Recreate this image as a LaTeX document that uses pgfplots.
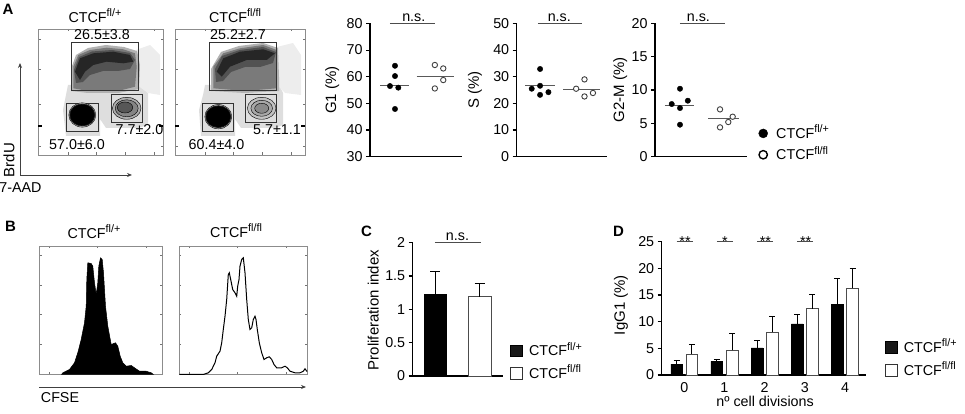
\documentclass[border=0pt]{standalone}
\usepackage{fontspec}
\setmainfont{Liberation Sans}
\usepackage{pgfplots}
\pgfplotsset{compat=1.18}
\usetikzlibrary{arrows.meta}
\newcommand\fs{\fontsize{14.3}{16}\selectfont}
\newcommand\fl{\fontsize{15}{17}\selectfont}
\newcommand\su[1]{\raisebox{5.6pt}{\fontsize{10.8}{10.8}\selectfont #1}}
\pgfplotsset{
  every axis/.append style={font=\fs},
  flow/.style={scale only axis, anchor=south west, width=125pt, height=126pt,
    xmin=0, xmax=125, ymin=0, ymax=126,
    axis line style={black!45, line width=0.6pt},
    tick align=inside, major tick length=2.5pt,
    xtick={30,58,87,116}, ytick={9,51,86,116}, xticklabels={}, yticklabels={},
    tick style={black!55, line width=0.5pt},
    extra y ticks={29}, extra y tick labels={},
    extra y tick style={major tick length=4pt, tick style={line width=1.8pt, black}},
    clip=false},
  hist/.style={scale only axis, anchor=south west, height=128.5pt,
    ymin=0, ymax=128.5,
    axis line style={black!45, line width=0.6pt},
    tick align=inside, major tick length=2pt,
    xtick={10,58,107}, ytick={30,60,89,119}, xticklabels={}, yticklabels={},
    tick style={black!55, line width=0.5pt}, clip=false},
  scat/.style={scale only axis, anchor=south west, height=133.3pt,
    axis x line*=bottom, axis y line*=left,
    axis line style={-, line width=1.1pt}, xtick=\empty,
    tick align=outside, major tick length=4pt,
    tick style={line width=1.1pt, black},
    yticklabel style={font=\fs},
    /pgf/number format/assume math mode=true,
    ylabel style={anchor=center, font=\fl},
    clip=false},
  fillpt/.style={only marks, mark=*, mark size=2.7pt, black},
  openpt/.style={only marks, mark=*, mark size=2.7pt, mark options={fill=white, draw=black!75, line width=0.9pt}},
  meanl/.style={black!65, line width=0.9pt},
  nsl/.style={black!70, line width=0.9pt},
  errs/.style={error bars/.cd, y dir=plus, y explicit,
    error bar style={black, line width=0.8pt},
    error mark options={rotate=90, mark size=#1, line width=0.8pt, black}},
}
\begin{document}
\begin{tikzpicture}[x=1pt, y=1pt, font=\fs]
\path[use as bounding box] (0,0) rectangle (965,414);

% ---------- panel letters ----------
\node[anchor=base, font=\fontsize{15}{17}\selectfont\bfseries] at (8,399.6) {A};
\node[anchor=base, font=\fontsize{15}{17}\selectfont\bfseries] at (10.5,182.1) {B};
\node[anchor=base, font=\fontsize{15}{17}\selectfont\bfseries] at (366.5,177.6) {C};
\node[anchor=base, font=\fontsize{15}{17}\selectfont\bfseries] at (618.5,177.6) {D};

% ---------- A: flow plots ----------
\node[anchor=base] at (95,391.8) {CTCF\su{fl/+}};
\node[anchor=base] at (235,391.8) {CTCF\su{fl/fl}};

\begin{axis}[flow, at={(38pt,259pt)}]
\addplot[fill=black!13, draw=none] coordinates {(30,70)(100,70)(110,62)(110,30)(100,27)(68,27)(62,36)(62,19)(28,19)(25,45)(28,60)} -- cycle;
\addplot[fill=black!7, draw=none] coordinates {(98,105)(112,110)(122,100)(122,60)(110,62)(99,70)} -- cycle;
\addplot[fill=black!30, draw=none] coordinates {(33,86)(38,100)(50,107)(68,110)(86,108)(99,104)(102,90)(101,66)(80,62)(50,62)(33,64)} -- cycle;
\addplot[fill=black!52, draw=none] coordinates {(35.3,88.3)(40.3,100)(52,105)(68.7,107.3)(85.3,105.7)(97,101.7)(98.7,88.3)(97,68.3)(80,64)(50,64)(35.3,66.7)} -- cycle;
\addplot[fill=black!68, draw=none] coordinates {(36,85)(41,98)(54,103.5)(74,105)(92,102)(97,95)(92,86)(80,84)(65,84)(52,80)(45,73)(38,72)} -- cycle;
\addplot[fill=black!85, draw=none] coordinates {(37,83.3)(42,96.7)(55.3,101.7)(75.3,103.3)(92,100)(95.3,93.3)(85.3,91.7)(68.7,93.3)(55.3,90)(47,83.3)(42,75)} -- cycle;
\addplot[only marks, mark=*, mark size=13.5pt, mark options={fill=black!30, draw=none, yscale=0.9}] coordinates {(44.3,40)};
\addplot[only marks, mark=*, mark size=12pt, mark options={fill=black!60, draw=none, yscale=0.92, xscale=1.05}] coordinates {(44.3,40)};
\addplot[only marks, mark=*, mark size=10.5pt, mark options={fill=black, draw=none, xscale=1.15}] coordinates {(44.3,40)};
\addplot[only marks, mark=*, mark size=11pt, mark options={fill=black!32, draw=none, xscale=1.3}] coordinates {(88.7,46.7)};
\addplot[only marks, mark=*, mark size=8.5pt, mark options={fill=black!48, draw=none, xscale=1.35}] coordinates {(88.7,46.7)};
\addplot[only marks, mark=*, mark size=5.5pt, mark options={fill=black!66, draw=none, xscale=1.4}] coordinates {(87,47.5)};
\addplot[black!80, line width=0.7pt] coordinates {(33,65)(100,65)(100,113)(33,113)(33,65)};
\addplot[black!80, line width=0.7pt] coordinates {(28,24)(60,24)(60,52)(28,52)(28,24)};
\addplot[black!80, line width=0.7pt] coordinates {(73,33)(104,33)(104,61)(73,61)(73,33)};
\node[anchor=base, font=\fs] at (axis cs:64,115.8) {26.5±3.8};
\node[anchor=base, font=\fs] at (axis cs:101.5,20.8) {7.7±2.0};
\node[anchor=base, font=\fs] at (axis cs:39,5.8) {57.0±6.0};
\end{axis}

\begin{axis}[flow, at={(175pt,259pt)}, width=130pt, xmax=130]
\addplot[fill=black!13, draw=none] coordinates {(30,70)(104,70)(108,62)(108,30)(100,27)(66,27)(60,36)(60,19)(26,19)(24,45)(28,60)} -- cycle;
\addplot[fill=black!7, draw=none] coordinates {(102,108)(118,112)(126,100)(126,60)(110,62)(102,70)} -- cycle;
\addplot[fill=black!30, draw=none] coordinates {(36,86)(46,103)(64,109)(88,112)(103,107)(104,78)(104,64)(70,62)(36,64)} -- cycle;
\addplot[fill=black!52, draw=none] coordinates {(38.3,88.3)(48.3,101.7)(65,106.7)(88.3,110)(101.7,105)(101.7,78.3)(101.7,66.7)(70,64)(38.3,66.7)} -- cycle;
\addplot[fill=black!68, draw=none] coordinates {(40,86)(47,99)(65,105)(88,108)(101,103)(98,92)(85,88)(70,88)(56,83)(48,74)(41,73)} -- cycle;
\addplot[fill=black!85, draw=none] coordinates {(41.7,83.3)(48.3,96.7)(65,103.3)(88.3,105.7)(100,101.7)(91.7,95)(71.7,95)(55,88.3)(46.7,78.3)} -- cycle;
\addplot[only marks, mark=*, mark size=13.5pt, mark options={fill=black!30, draw=none, yscale=0.9}] coordinates {(43.3,38.3)};
\addplot[only marks, mark=*, mark size=12pt, mark options={fill=black!60, draw=none, yscale=0.92, xscale=1.05}] coordinates {(43.3,38.3)};
\addplot[only marks, mark=*, mark size=10.5pt, mark options={fill=black, draw=none, xscale=1.15}] coordinates {(43.3,38.3)};
\addplot[only marks, mark=*, mark size=11pt, mark options={fill=black!24, draw=none, xscale=1.3}] coordinates {(86.7,46.7)};
\addplot[only marks, mark=*, mark size=8pt, mark options={fill=black!34, draw=none, xscale=1.35}] coordinates {(86.7,46.7)};
\addplot[only marks, mark=*, mark size=5pt, mark options={fill=black!46, draw=none, xscale=1.4}] coordinates {(86.7,46.7)};
\addplot[black!80, line width=0.7pt] coordinates {(34,65)(101,65)(101,113)(34,113)(34,65)};
\addplot[black!80, line width=0.7pt] coordinates {(27,24)(58,24)(58,52)(27,52)(27,24)};
\addplot[black!80, line width=0.7pt] coordinates {(70,33)(101,33)(101,61)(70,61)(70,33)};
\node[anchor=base, font=\fs] at (axis cs:63,115.8) {25.2±2.7};
\node[anchor=base, font=\fs] at (axis cs:102,20.8) {5.7±1.1};
\node[anchor=base, font=\fs] at (axis cs:41.5,5.8) {60.4±4.0};
\end{axis}

\draw[black!75, line width=0.8pt, -{Stealth[length=5pt,width=4pt]}] (20,239) -- (20,351);
\draw[black!75, line width=0.8pt, -{Stealth[length=5pt,width=4pt]}] (20,239) -- (132,239);
\node[rotate=90, anchor=center, font=\fl] at (9,254) {BrdU};
\node[anchor=base] at (20.5,221.8) {7-AAD};

% ---------- A: scatter plots ----------
\begin{axis}[scat, at={(370pt,257.3pt)}, width=92.3pt, xmin=0.436, xmax=2.52,
  ymin=30, ymax=80, ytick={30,40,...,80},
  ylabel={G1 (\%)}, ylabel style={at={(axis description cs:-0.41,0.5)}}]
\addplot[fillpt] coordinates {(1,64.1)(1,60.25)(0.887,56.5)(1.075,55.9)(1,47.9)};
\addplot[openpt] coordinates {(1.90,64.4)(2.09,63.1)(2.09,58.75)(1.90,55.6)};
\addplot[meanl] coordinates {(0.662,56.9)(1.323,56.9)};
\addplot[meanl] coordinates {(1.489,60.25)(2.33,60.25)};
\addplot[nsl] coordinates {(0.887,80)(1.90,80)};
\node[anchor=base, font=\fs, yshift=2pt] at (axis cs:1.425,80) {n.s.};
\end{axis}

\begin{axis}[scat, at={(516.7pt,257.3pt)}, width=90pt, xmin=0.474, xmax=2.50,
  ymin=0, ymax=50, ytick={0,10,...,50},
  ylabel={S (\%)}, ylabel style={at={(axis description cs:-0.463,0.5)}}]
\addplot[fillpt] coordinates {(1,32.9)(0.812,25.5)(1,26.6)(1,23.2)(1.188,24.2)};
\addplot[openpt] coordinates {(1.812,25.5)(2.0,29.0)(2.0,22.6)(2.19,23.9)};
\addplot[meanl] coordinates {(0.662,26.6)(1.339,26.6)};
\addplot[meanl] coordinates {(1.527,25.1)(2.34,25.1)};
\addplot[nsl] coordinates {(0.948,50)(1.94,50)};
\node[anchor=base, font=\fs, yshift=2pt] at (axis cs:1.433,50) {n.s.};
\end{axis}

\begin{axis}[scat, at={(655pt,257.3pt)}, width=91.7pt, xmin=0.457, xmax=2.45,
  ymin=0, ymax=20, ytick={0,5,...,20},
  ylabel={G2-M (\%)}, ylabel style={at={(axis description cs:-0.38,0.5)}},
  legend style={at={(axis description cs:1.1287,0.2393)}, anchor=north west,
    draw=none, fill=none, inner sep=0pt, row sep=6.4pt, column sep=8.5pt,
    font=\fs, nodes={inner sep=0pt}, cells={anchor=base west}},
  legend image code/.code={\draw[#1] plot coordinates {(4.5pt,5pt)};}]
\addplot[fillpt, forget plot] coordinates {(1,10.2)(0.82,7.9)(1.17,8.4)(1,7.3)(1,4.8)};
\addplot[openpt, forget plot] coordinates {(1.87,7.1)(2.145,6.0)(2.05,5.2)(1.87,4.4)};
\addplot[meanl, forget plot] coordinates {(0.674,7.7)(1.312,7.7)};
\addplot[meanl, forget plot] coordinates {(1.616,5.7)(2.29,5.7)};
\addplot[nsl, forget plot] coordinates {(1.0,20)(1.979,20)};
\node[anchor=base, font=\fs, yshift=2pt] at (axis cs:1.40,20) {n.s.};
\addlegendimage{only marks, mark=*, mark size=4.5pt, black}
\addlegendentry{CTCF\su{fl/+}}
\addlegendimage{only marks, mark=*, mark size=4.2pt, mark options={fill=white, draw=black, line width=1.4pt}}
\addlegendentry{CTCF\su{fl/fl}}
\end{axis}

% ---------- B: CFSE histograms ----------
\node[anchor=base] at (94,175.8) {CTCF\su{fl/+}};
\node[anchor=base] at (236,176.8) {CTCF\su{fl/fl}};

\begin{axis}[hist, at={(39.5pt,39.5pt)}, width=122.5pt, xmin=0, xmax=122.5]
\addplot[fill=black, draw=black, line width=0.5pt] coordinates {
(22,0)(23.3,1.7)(30,5)(35,11.7)(38.3,21.7)(41.7,35)(45,51.7)(46.7,68.3)(47.3,95)(48.3,111.7)
(51.7,111)(53.3,108.3)(55,91.7)(56.7,80)(58.3,91.7)(59.3,108.3)(61,116.7)(62.7,115)(64,101.7)
(66,68.3)(68.3,48.3)(71.7,30)(76,31.7)(78.3,28.3)(80.7,18.3)(83.3,11.7)(86.7,8.3)(91.7,9)
(95,6.7)(100,3.3)(106.7,3.3)(111.7,1.7)(114,0)} -- cycle;
\end{axis}

\begin{axis}[hist, at={(179.3pt,39.5pt)}, width=127.7pt, xmin=0, xmax=127.7]
\addplot[black, line width=1pt] coordinates {
(0,0)(24,0)(29,1.7)(32.4,5)(35.7,11.7)(37.4,18.3)(40.7,23.3)(42.4,31.7)(44,45)(45.7,58.3)
(47.4,75)(49,100)(50,101.7)(51.4,95)(53.4,85)(55.7,81.7)(57.4,78.3)(58.4,88.3)(59.7,95)
(60.7,108.3)(62.4,115)(64,116.7)(65.7,101.7)(67.4,75)(69,55)(70.7,45)(72.4,46.7)(74,55)
(75.7,58.3)(76.7,55)(78,45)(80,31.7)(82.4,21.7)(84.7,15)(87.4,16.7)(90,17.7)(92.4,15)
(94.7,10)(97.4,6.7)(102.4,6.7)(105.7,8.3)(108,6.7)(110.7,3.3)(115.7,1.7)(120.7,1.7)
(124,3.3)(125.7,5.7)(127.7,3)};
\end{axis}

\draw[black!75, line width=0.8pt, -{Stealth[length=5pt,width=4pt]}] (39,27) -- (306,27);
\node[anchor=base] at (60,11.8) {CFSE};

% ---------- C: proliferation index ----------
\begin{axis}[scat, at={(412.7pt,38pt)}, width=90pt, xmin=-0.51, xmax=1.52,
  ymin=0, ymax=2, ytick={0,0.5,1,1.5,2},
  ylabel={Proliferation index}, ylabel style={at={(axis description cs:-0.438,0.495)}},
  legend style={at={(axis description cs:1.0811,0.2551)}, anchor=north west,
    draw=none, fill=none, inner sep=0pt, row sep=8pt, column sep=6.3pt,
    font=\fs, nodes={inner sep=0pt}, cells={anchor=base west}},
  legend image code/.code={\draw[#1] (0pt,-0.85pt) rectangle (11.7pt,10.85pt);}]
\addplot[ybar, bar width=22.7pt, bar shift=0pt, fill=black, draw=black, forget plot, errs=5pt]
  coordinates {(0,1.23) +- (0,0.335)};
\addplot[ybar, bar width=22.7pt, bar shift=0pt, fill=white, draw=black!70, line width=0.8pt, forget plot, errs=5pt]
  coordinates {(1,1.19) +- (0,0.20)};
\addplot[nsl, forget plot] coordinates {(-0.008,2)(1.02,2)};
\node[anchor=base, font=\fs, yshift=2pt] at (axis cs:0.5,2) {n.s.};
\addlegendimage{fill=black!90, draw=black}
\addlegendentry{CTCF\su{fl/+}}
\addlegendimage{fill=white, draw=black!80, line width=0.9pt}
\addlegendentry{CTCF\su{fl/fl}}
\end{axis}

% ---------- D: IgG1 per division ----------
\begin{axis}[scat, at={(661.7pt,39pt)}, width=204.3pt, xmin=-0.56, xmax=4.52,
  ymin=0, ymax=25, ytick={0,5,...,25},
  xtick={0,1,2,3,4}, major x tick style={draw=none},
  xticklabel style={font=\fs},
  xlabel={nº cell divisions}, xlabel style={at={(axis description cs:0.506,-0.239)}, anchor=base, font=\fs},
  ylabel={IgG1 (\%)}, ylabel style={at={(axis description cs:-0.199,0.525)}},
  legend style={at={(axis description cs:1.0930,0.2738)}, anchor=north west,
    draw=none, fill=none, inner sep=0pt, row sep=8.5pt, column sep=6pt,
    font=\fs, nodes={inner sep=0pt}, cells={anchor=base west}},
  legend image code/.code={\draw[#1] (0pt,-0.85pt) rectangle (11.7pt,10.85pt);}]
\addplot[ybar, bar width=11.7pt, bar shift=0pt, fill=black, draw=black, forget plot, errs=3pt]
  coordinates {(-0.189,2.06) +- (0,0.74) (0.811,2.56) +- (0,0.44) (1.811,5.1) +- (0,1.3) (2.811,9.6) +- (0,1.8) (3.811,13.3) +- (0,4.8)};
\addplot[ybar, bar width=11.7pt, bar shift=0pt, fill=white, draw=black!70, line width=0.8pt, forget plot, errs=3pt]
  coordinates {(0.189,3.9) +- (0,1.85) (1.189,4.6) +- (0,3.2) (2.189,8.06) +- (0,3.0) (3.189,12.4) +- (0,2.7) (4.189,16.25) +- (0,3.75)};
\addplot[nsl, forget plot] coordinates {(-0.19,25)(0.21,25)};
\addplot[nsl, forget plot] coordinates {(0.81,25)(1.21,25)};
\addplot[nsl, forget plot] coordinates {(1.81,25)(2.21,25)};
\addplot[nsl, forget plot] coordinates {(2.81,25)(3.21,25)};
\node[anchor=base, font=\fs, yshift=-5pt] at (axis cs:0.02,25) {**};
\node[anchor=base, font=\fs, yshift=-5pt] at (axis cs:1.01,25) {*};
\node[anchor=base, font=\fs, yshift=-5pt] at (axis cs:2.02,25) {**};
\node[anchor=base, font=\fs, yshift=-5pt] at (axis cs:3.02,25) {**};
\addlegendimage{fill=black!90, draw=black}
\addlegendentry{CTCF\su{fl/+}}
\addlegendimage{fill=white, draw=black!80, line width=0.9pt}
\addlegendentry{CTCF\su{fl/fl}}
\end{axis}
\end{tikzpicture}
\end{document}
